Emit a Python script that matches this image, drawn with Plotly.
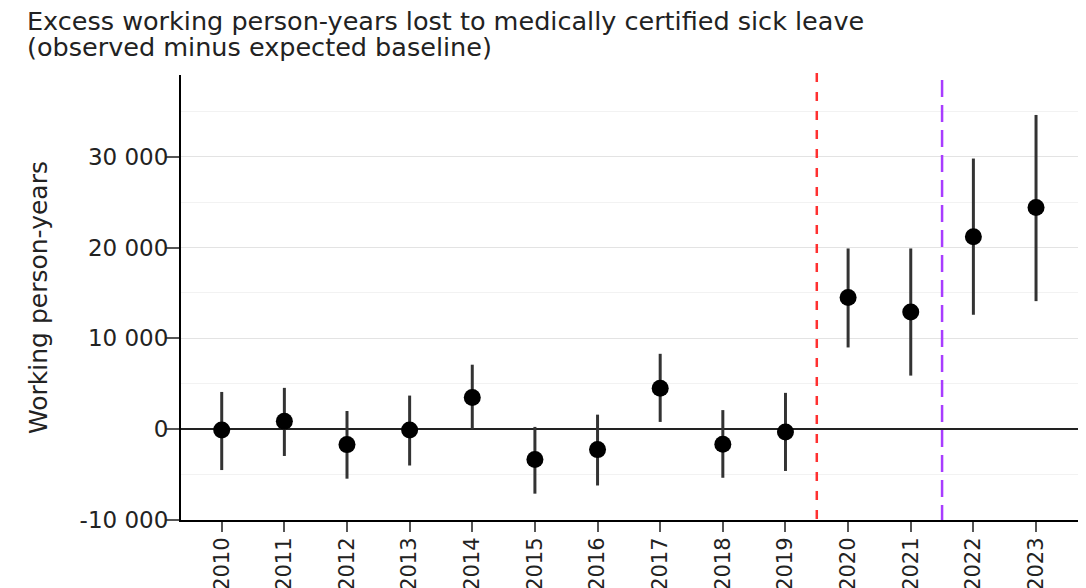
import plotly.graph_objects as go

years = [2010, 2011, 2012, 2013, 2014, 2015, 2016, 2017, 2018, 2019, 2020, 2021, 2022, 2023]
excess = [-100, 880, -1700, -100, 3500, -3350, -2250, 4500, -1650, -300, 14500, 12900, 21200, 24400]
upper = [4100, 4550, 2000, 3700, 7100, 250, 1600, 8300, 2100, 4000, 19900, 19900, 29800, 34600]
lower = [-4500, -2950, -5450, -4000, 0, -7100, -6200, 800, -5350, -4600, 9000, 5900, 12600, 14100]
yticks = [-10000, 0, 10000, 20000, 30000]
yticklabels = ["-10 000", "0", "10 000", "20 000", "30 000"]
pandemic_start = 2019.5
omicron_start = 2021.5
title_lines = ["Excess working person-years lost to medically certified sick leave",
               "(observed minus expected baseline)"]

err_plus = [u - e for u, e in zip(upper, excess)]
err_minus = [e - l for e, l in zip(excess, lower)]

font = "DejaVu Sans"
# page body has an 8px margin, so the figure is sized to fit the remaining window
W, H = 1078, 580
L, R, T, B = 173, 8, 67, 68
pw, ph = W - L - R, H - T - B

fig = go.Figure()
fig.add_trace(go.Scatter(
    x=years, y=excess, mode="markers",
    marker=dict(color="black", size=17),
    error_y=dict(type="data", symmetric=False, array=err_plus, arrayminus=err_minus,
                 color="#333333", thickness=3, width=0),
    showlegend=False,
))

fig.add_shape(type="line", x0=pandemic_start, x1=pandemic_start, xref="x",
              y0=1.0045, y1=0, yref="paper",
              line=dict(color="#ff3030", width=2.5, dash="9px,10px"))
fig.add_shape(type="line", x0=omicron_start, x1=omicron_start, xref="x",
              y0=0.989, y1=0, yref="paper",
              line=dict(color="#a83cff", width=2.5, dash="17px,8px"))

for i, line in enumerate(title_lines):
    top_px = -4 + 26 * i
    fig.add_annotation(
        text=line, showarrow=False, align="left",
        xref="paper", yref="paper",
        x=(17 - L) / pw, xanchor="left",
        y=1 + (T - top_px) / ph, yanchor="top",
        font=dict(family=font, size=25.5, color="#222222"),
    )

fig.update_layout(
    width=W, height=H,
    paper_bgcolor="white", plot_bgcolor="white",
    margin=dict(l=L, r=R, t=T, b=B, autoexpand=False),
    font=dict(family=font, color="#222222", size=23),
    xaxis=dict(
        range=[2009.35, 2023.67], automargin=False,
        tickmode="array", tickvals=years, ticktext=[str(y) for y in years],
        tickangle=-90, ticks="outside", ticklen=10, tickwidth=1.5, tickcolor="#555555",
        ticklabelstandoff=-3,
        showgrid=False, showline=True, linecolor="black", linewidth=2,
        zeroline=False, tickfont=dict(size=21, color="#222222"),
    ),
    yaxis=dict(
        range=[-10000, 39000], automargin=False,
        tickmode="array", tickvals=yticks, ticktext=yticklabels,
        ticks="outside", ticklen=14, tickwidth=1.5, tickcolor="#555555",
        ticklabelstandoff=-8,
        showgrid=True, gridcolor="#e3e3e3", gridwidth=1.2,
        minor=dict(dtick=5000, tick0=-5000, showgrid=True, gridcolor="#f2f2f2", gridwidth=1, ticks=""),
        showline=True, linecolor="black", linewidth=2,
        zeroline=True, zerolinecolor="#222222", zerolinewidth=2,
        title=dict(text="Working person-years", font=dict(size=25, color="#222222"), standoff=25),
        tickfont=dict(size=23, color="#222222"),
    ),
)

fig.write_html("out.html")
